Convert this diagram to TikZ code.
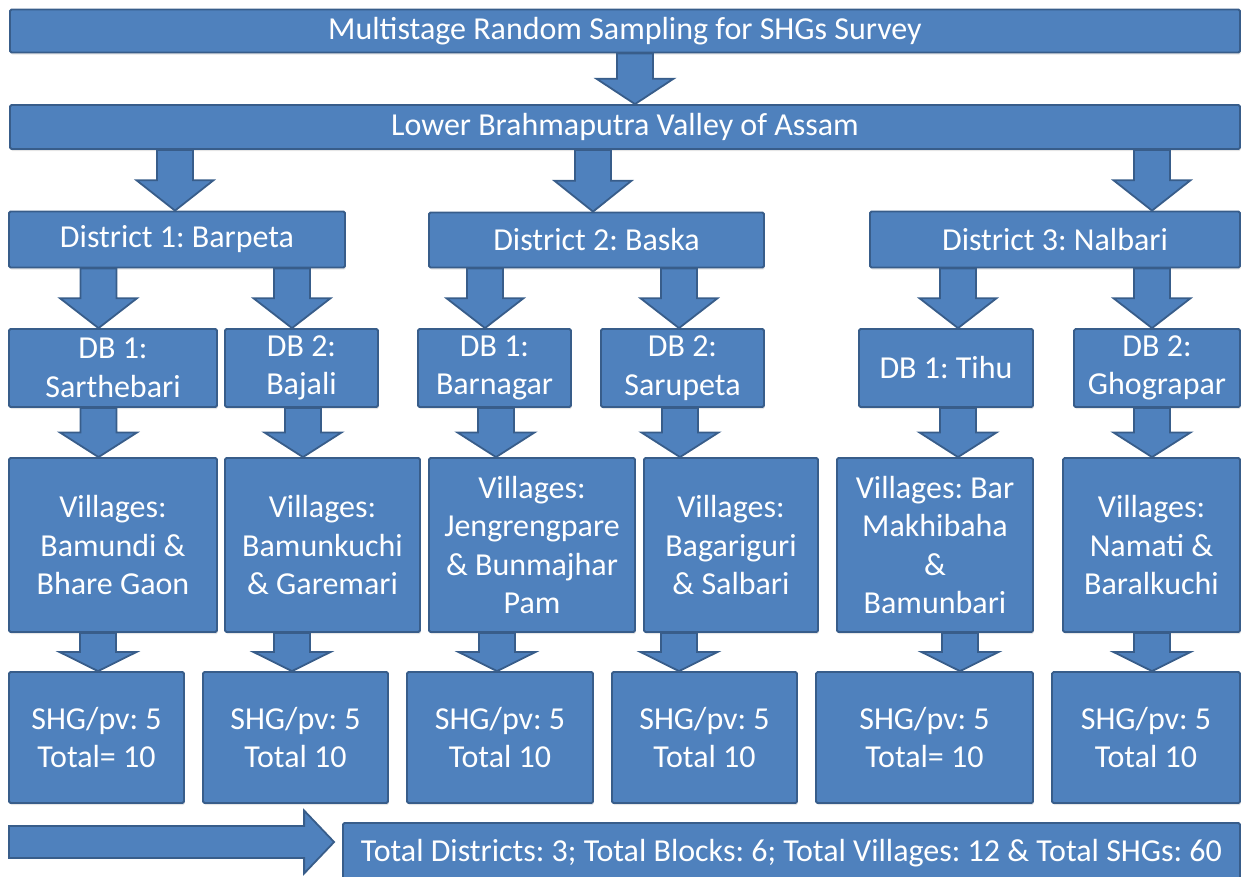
\documentclass[tikz,border=0pt]{standalone}
\usepackage{fontspec}
\setmainfont{Carlito}
\frenchspacing
\usetikzlibrary{calc,shadows}
\definecolor{boxfill}{HTML}{4F81BD}
\definecolor{boxline}{HTML}{385D8A}
\tikzset{
  blk/.style={draw=boxline,fill=boxfill,line width=1.8pt,rounded corners=1.5pt,
    text=white,align=center,inner sep=0pt,font=\fontsize{32}{38.5}\selectfont,
    drop shadow={shadow xshift=0.8pt,shadow yshift=-2pt,opacity=0.2}},
  fat/.style={draw=boxline,fill=boxfill,line width=1.8pt,line join=miter}
}
% block arrow straight down: source, target, x of the shaft
\newcommand\fatdown[3]{%
  \draw[fat] let \p1=(#1.south), \p2=(#2.north), \n1={(\y1+\y2)/2} in
    (#3-18,\y1) -- (#3+18,\y1) -- (#3+18,\n1) -- (#3+38.5,\n1)
    -- (#3,\y2) -- (#3-38.5,\n1) -- (#3-18,\n1) -- cycle;}

\begin{document}
\begin{tikzpicture}[x=1pt,y=-1pt]
  \useasboundingbox (0,0) rectangle (1244,876);
  \clip (0,0) rectangle (1244,876);

  \node[blk,minimum width=1230,minimum height=43] (survey) at (625,31) {Multistage Random Sampling for SHGs Survey};
  \node[blk,minimum width=1230,minimum height=44] (valley) at (625,127) {Lower Brahmaputra Valley of Assam};

  % districts
  \node[blk,minimum width=336,minimum height=56] (dist1) at (177,239.5) {District 1: Barpeta};
  \node[blk,minimum width=335,minimum height=55] (dist2) at (596.5,240) {District 2: Baska};
  \node[blk,minimum width=370,minimum height=56] (dist3) at (1055,239.5) {District 3: Nalbari};

  % development blocks
  \node[blk,minimum width=208,minimum height=78] (db11) at (113,368) {DB 1:\\Sarthebari};
  \node[blk,minimum width=153,minimum height=78] (db12) at (301.5,368) {DB 2:\\Bajali};
  \node[blk,minimum width=153,minimum height=78] (db21) at (494.5,368) {DB 1:\\Barnagar};
  \node[blk,minimum width=163,minimum height=78] (db22) at (682.5,368) {DB 2:\\Sarupeta};
  \node[blk,minimum width=174,minimum height=78] (db31) at (946,368) {DB 1: Tihu};
  \node[blk,minimum width=166,minimum height=78] (db32) at (1157,368) {DB 2:\\Ghograpar};

  % villages
  \node[blk,minimum width=208,minimum height=174] (vil11) at (113,545) {Villages:\\Bamundi \&\\Bhare Gaon};
  \node[blk,minimum width=195,minimum height=174] (vil12) at (322.5,545) {Villages:\\Bamunkuchi\\\& Garemari};
  \node[blk,minimum width=206,minimum height=174] (vil21) at (532,545) {Villages:\\Jengrengpare\\\& Bunmajhar\\Pam};
  \node[blk,minimum width=174,minimum height=174] (vil22) at (731,545) {Villages:\\Bagariguri\\\& Salbari};
  \node[blk,minimum width=196,minimum height=174] (vil31) at (935,545) {Villages: Bar\\Makhibaha\\\&\\Bamunbari};
  \node[blk,minimum width=177,minimum height=174] (vil32) at (1151.5,545) {Villages:\\Namati \&\\Baralkuchi};

  % SHGs per village
  \node[blk,minimum width=175,minimum height=131] (shg11) at (96.5,737.5) {SHG/pv: 5\\Total= 10};
  \node[blk,minimum width=185,minimum height=131] (shg12) at (295.5,737.5) {SHG/pv: 5\\Total 10};
  \node[blk,minimum width=186,minimum height=131] (shg21) at (500,737.5) {SHG/pv: 5\\Total 10};
  \node[blk,minimum width=185,minimum height=131] (shg22) at (704.5,737.5) {SHG/pv: 5\\Total 10};
  \node[blk,minimum width=217,minimum height=131] (shg31) at (924.5,737.5) {SHG/pv: 5\\Total= 10};
  \node[blk,minimum width=188,minimum height=131] (shg32) at (1146,737.5) {SHG/pv: 5\\Total 10};

  \node[blk,minimum width=897,minimum height=60] (total) at (791.5,853) {Total Districts: 3; Total Blocks: 6; Total Villages: 12 \& Total SHGs: 60};

  \foreach \src/\dst/\xa in {survey/valley/635, valley/dist1/175, valley/dist2/593, valley/dist3/1152,
      dist1/db11/98.5, dist1/db12/292, dist2/db21/485, dist2/db22/679, dist3/db31/958, dist3/db32/1152,
      db11/vil11/98.5, db12/vil12/303, db21/vil21/496, db22/vil22/680, db31/vil31/958, db32/vil32/1152,
      vil11/shg11/98, vil12/shg12/292, vil21/shg21/497, vil22/shg22/679, vil31/shg31/960, vil32/shg32/1152}
    \fatdown{\src}{\dst}{\xa};

  % arrow into the summary
  \coordinate (tail) at (9,842);
  \draw[fat] let \p1=(tail), \p2=(total.west) in
    (\x1,\y1+16pt) -- (\x2-38pt,\y1+16pt) -- (\x2-38pt,\y1+31.5pt) -- (\x2-8pt,\y1)
    -- (\x2-38pt,\y1-31.5pt) -- (\x2-38pt,\y1-16pt) -- (\x1,\y1-16pt) -- cycle;
\end{tikzpicture}
\end{document}
